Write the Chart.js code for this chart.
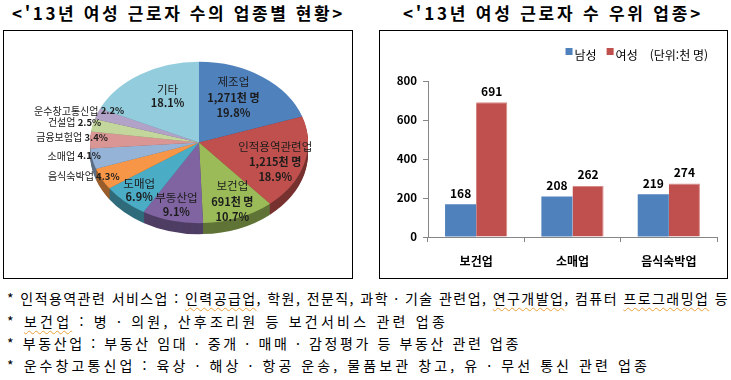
<!DOCTYPE html>
<html lang="ko">
<head>
<meta charset="utf-8">
<script src="https://cdn.jsdelivr.net/npm/chart.js@4.4.1/dist/chart.umd.min.js"></script>
<style>
body{margin:0;width:731px;height:380px;background:#fff;position:relative;overflow:hidden;font-family:"Noto Sans CJK KR",sans-serif;color:#000;}
.title{position:absolute;top:3px;line-height:20px;font-size:17px;font-weight:bold;white-space:nowrap;}
.box{position:absolute;top:30px;height:249px;border:1px solid #000;box-sizing:border-box;}
.box canvas{display:block;}
#pieBox{left:3px;width:350px;}
#barBox{left:379px;width:349px;}
.note{position:absolute;left:7px;font-size:14px;line-height:20px;white-space:nowrap;}
.wavy{text-decoration:underline wavy #e9a23b;text-decoration-thickness:1px;text-underline-offset:3px;}
</style>
</head>
<body>

<div class="title" style="left:12px" data-w="333">&lt;'13년 여성 근로자 수의 업종별 현황&gt;</div>
<div class="title" style="left:403px" data-w="300">&lt;'13년 여성 근로자 수 우위 업종&gt;</div>

<div class="box" id="pieBox"><canvas id="pieChart" width="348" height="247"></canvas></div>
<div class="box" id="barBox"><canvas id="barChart" width="347" height="247"></canvas></div>

<div class="note" style="top:288px" data-w="722">* 인적용역관련 서비스업 : <span class="wavy">인력공급업</span>, 학원, 전문직, 과학 · 기술 관련업, <span class="wavy">연구개발업</span>, 컴퓨터 <span class="wavy">프로그래밍업</span> 등</div>
<div class="note" style="top:311px" data-w="441">* <span class="wavy">보건업</span> : 병 · 의원, 산후조리원 등 보건서비스 관련 업종</div>
<div class="note" style="top:333px" data-w="514">* 부동산업 : 부동산 임대 · 중개 · 매매 · 감정평가 등 부동산 관련 업종</div>
<div class="note" style="top:355px" data-w="643">* 운수창고통신업 : 육상 · 해상 · 항공 운송, 물품보관 창고, 유 · 무선 통신 관련 업종</div>

<script>

const pieLabels=["제조업","인적용역관련업","보건업","부동산업","도매업","음식숙박업","소매업","금융보험업","건설업","운수창고통신업","기타"];
const pieShares=[19.8,18.9,10.7,9.1,6.9,4.3,4.1,3.4,2.5,2.2,18.1];
const pieCounts=["1,271","1,215","691",null,null,null,null,null,null,null,null];

const barCategories=["보건업","소매업","음식숙박업"];
const seriesNames=["남성","여성"];
const maleValues=[168,208,219];
const femaleValues=[691,262,274];
const yTicks=[0,200,400,600,800];
const unitText="(단위:천 명)";

const FONT="'Noto Sans CJK KR','Noto Sans',sans-serif";
const pieColors=["#4F81BD","#C0504D","#9BBB59","#8064A2","#4BACC6","#F79646","#95B3D7","#D99694","#C3D69B","#B3A2C7","#93CDDD"];
const squash=0.74;
const depth=11;


function fitText(){
document.querySelectorAll("[data-w]").forEach(el=>{
const target=+el.dataset.w;
const n=el.textContent.length;
const w=el.getBoundingClientRect().width;
el.style.letterSpacing=((target-w)/n)+"px";
});
}


function shade(hex,f){
const n=parseInt(hex.slice(1),16);
const r=Math.round(((n>>16)&255)*f);
const g=Math.round(((n>>8)&255)*f);
const b=Math.round((n&255)*f);
return "rgb("+r+","+g+","+b+")";
}

const sideColors=pieColors.map(c=>shade(c,0.62));


// squash the pie into an ellipse and stack darker copies under it for the 3D rim
const tiltPlugin={
id:"tilt",
beforeDatasetsDraw(chart){
const ctx=chart.ctx;
const arcs=chart.getDatasetMeta(0).data;
const cx=arcs[0].x,cy=arcs[0].y;
for(let d=depth;d>0;d--){
ctx.save();
ctx.translate(cx,cy+d);
ctx.scale(1,squash);
ctx.translate(-cx,-cy);
arcs.forEach((arc,i)=>{
ctx.beginPath();
ctx.moveTo(cx,cy);
ctx.arc(cx,cy,arc.outerRadius,arc.startAngle,arc.endAngle);
ctx.closePath();
ctx.fillStyle=sideColors[i];
ctx.fill();
});
ctx.restore();
}
ctx.save();
ctx.translate(cx,cy);
ctx.scale(1,squash);
ctx.translate(-cx,-cy);
},
afterDatasetsDraw(chart){
chart.ctx.restore();
}
};


// front slices look bigger in the tilted view, so push their labels outward a bit
function labelPoint(arc){
const mid=(arc.startAngle+arc.endAngle)/2;
const fx=0.68+0.17*Math.sin(mid);
return {
x:arc.x+Math.cos(mid)*arc.outerRadius*fx,
y:arc.y+Math.sin(mid)*arc.outerRadius*0.74*squash+4
};
}

function rimPoint(arc){
const mid=(arc.startAngle+arc.endAngle)/2;
return {
x:arc.x+Math.cos(mid)*arc.outerRadius,
y:arc.y+Math.sin(mid)*arc.outerRadius*squash
};
}


const pieLabelPlugin={
id:"pieLabels",
afterDraw(chart){
const ctx=chart.ctx;
const arcs=chart.getDatasetMeta(0).data;
ctx.save();
ctx.fillStyle="#1c1c1c";
ctx.textAlign="center";
ctx.textBaseline="middle";
arcs.forEach((arc,i)=>{
const pct=pieShares[i].toFixed(1)+"%";
if(pieShares[i]>=5){
const p=labelPoint(arc);
if(pieCounts[i]){
ctx.font="11.5px "+FONT;
ctx.fillText(pieLabels[i],p.x,p.y-16);
ctx.font="bold 11px "+FONT;
ctx.fillText(pieCounts[i]+"천 명",p.x,p.y);
ctx.fillText(pct,p.x,p.y+15);
}else{
ctx.font="11.5px "+FONT;
ctx.fillText(pieLabels[i],p.x,p.y-7);
ctx.font="bold 11px "+FONT;
ctx.fillText(pct,p.x,p.y+7);
}
}else{
const p=rimPoint(arc);
ctx.font="10px "+FONT;
const w1=ctx.measureText(pieLabels[i]+" ").width;
ctx.font="bold 9.5px "+FONT;
const w2=ctx.measureText(pct).width;
const left=p.x-18-(w1+w2)/2;
ctx.textAlign="left";
ctx.font="10px "+FONT;
ctx.fillText(pieLabels[i]+" ",left,p.y-3);
ctx.font="bold 9.5px "+FONT;
ctx.fillText(pct,left+w1,p.y-3);
ctx.textAlign="center";
}
});
ctx.restore();
}
};


function drawPie(){

new Chart(document.getElementById("pieChart"),{
type:"pie",
data:{
labels:pieLabels,
datasets:[{
data:pieShares,
backgroundColor:pieColors,
borderWidth:0,
hoverOffset:0,
clip:false
}]
},
options:{
responsive:false,
animation:false,
events:[],
radius:109,
layout:{padding:{left:86,right:44,top:2,bottom:26}},
plugins:{legend:{display:false},tooltip:{enabled:false}}
},
plugins:[tiltPlugin,pieLabelPlugin]
});

}


const barLabelPlugin={
id:"barLabels",
afterDatasetsDraw(chart){
const ctx=chart.ctx;
ctx.save();
ctx.fillStyle="#000";
ctx.textAlign="center";
ctx.textBaseline="middle";
ctx.font="bold 12px "+FONT;
chart.data.datasets.forEach((ds,di)=>{
chart.getDatasetMeta(di).data.forEach((bar,i)=>{
ctx.fillText(ds.data[i],bar.x,bar.y-11);
});
});
ctx.restore();
}
};


const barLegendPlugin={
id:"barLegend",
afterDraw(chart){
const ctx=chart.ctx;
const y=24;
ctx.save();
ctx.textBaseline="middle";
ctx.font="12px "+FONT;
const items=chart.data.datasets.map(ds=>({text:ds.label,color:ds.backgroundColor}));
let total=0;
items.forEach(it=>{total+=7+2+ctx.measureText(it.text).width+10;});
total+=2+ctx.measureText(unitText).width;
let x=328-total;
items.forEach(it=>{
ctx.fillStyle=it.color;
ctx.fillRect(x,y-7,7,7);
x+=9;
ctx.fillStyle="#000";
ctx.fillText(it.text,x,y);
x+=ctx.measureText(it.text).width+10;
});
x+=2;
ctx.fillText(unitText,x,y);
ctx.restore();
}
};


function drawBars(){

new Chart(document.getElementById("barChart"),{
type:"bar",
data:{
labels:barCategories,
datasets:[
{label:seriesNames[0],data:maleValues,backgroundColor:"#4F81BD"},
{label:seriesNames[1],data:femaleValues,backgroundColor:"#C0504D",borderColor:"#D88a88",borderWidth:{top:1,right:1,left:0,bottom:0}}
]
},
options:{
responsive:false,
animation:false,
events:[],
categoryPercentage:0.646,
barPercentage:1,
layout:{padding:{top:50,right:10,left:0,bottom:0}},
plugins:{legend:{display:false},tooltip:{enabled:false}},
scales:{
x:{
grid:{offset:true,drawOnChartArea:false,tickLength:5,color:"#868686"},
border:{color:"#868686"},
ticks:{color:"#000",padding:12,font:{family:FONT,size:12,weight:"bold"}},
afterFit(s){s.height=41;}
},
y:{
min:yTicks[0],
max:yTicks[yTicks.length-1],
afterBuildTicks(s){s.ticks=yTicks.map(v=>({value:v}));},
grid:{drawOnChartArea:false,tickLength:5,color:"#868686"},
border:{color:"#868686"},
ticks:{color:"#000",padding:6,font:{family:FONT,size:11.5,weight:"bold"}},
afterFit(s){s.width=48;}
}
}
},
plugins:[barLabelPlugin,barLegendPlugin]
});

}


fitText();
drawPie();
drawBars();

</script>
</body>
</html>
